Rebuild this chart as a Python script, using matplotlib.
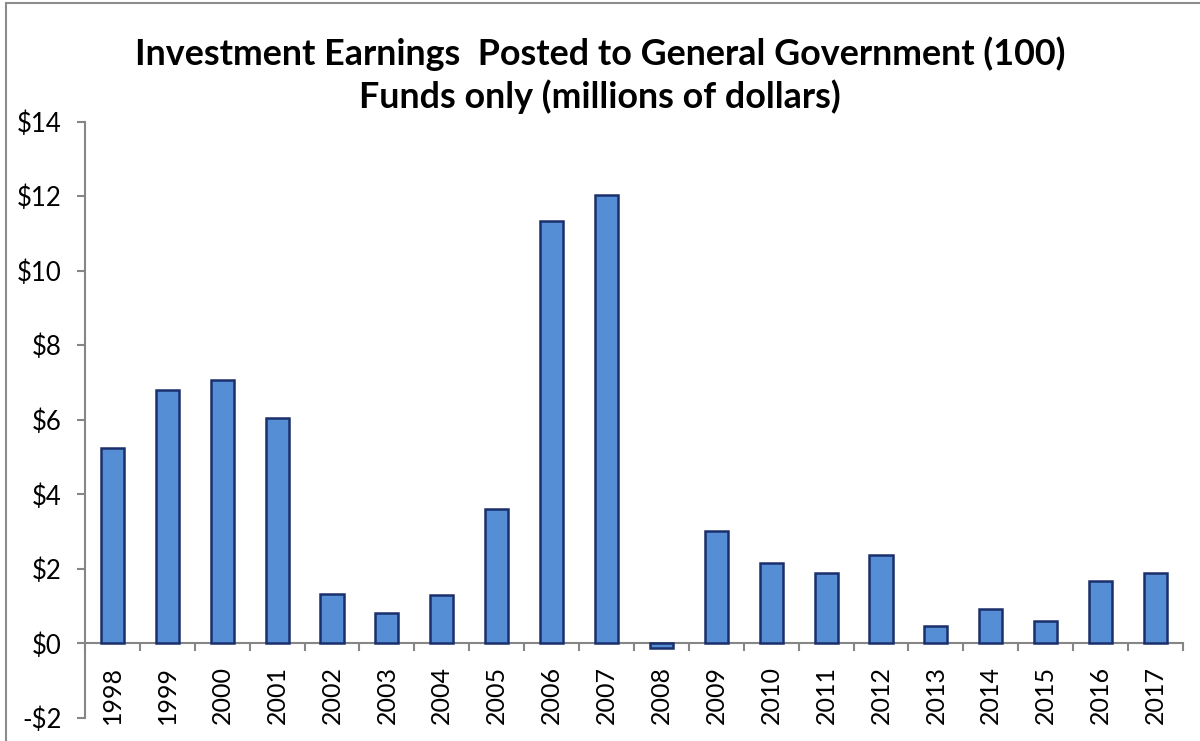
import matplotlib.pyplot as plt
import matplotlib.patches as patches
from matplotlib.ticker import FuncFormatter, MultipleLocator, FixedLocator

# 年度別の投資収益（百万ドル）
years = ["1998", "1999", "2000", "2001", "2002", "2003", "2004", "2005",
         "2006", "2007", "2008", "2009", "2010", "2011", "2012", "2013",
         "2014", "2015", "2016", "2017"]
earnings = [5.25, 6.8, 7.08, 6.04, 1.33, 0.82, 1.29, 3.6,
            11.32, 12.04, -0.12, 3.03, 2.17, 1.88, 2.36, 0.48,
            0.93, 0.6, 1.68, 1.88]

bar_face = "#558ed5"
bar_edge = "#1a2f6b"
axis_gray = "#868686"

plt.rcParams['font.family'] = ['Lato', 'DejaVu Sans']

fig = plt.figure(figsize=(12, 7.41), dpi=100)
ax = fig.add_axes([0.0708, 0.031, 0.915, 0.805])

x = list(range(len(years)))
ax.bar(x, earnings, width=0.42, color=bar_face, edgecolor=bar_edge,
       linewidth=1.8, zorder=3)

ax.set_xlim(-0.5, len(years) - 0.5)
ax.set_ylim(-2, 14)

# 軸の設定
for side in ["top", "right"]:
    ax.spines[side].set_visible(False)
ax.spines["bottom"].set_position(("data", 0))
ax.spines["left"].set_color(axis_gray)
ax.spines["bottom"].set_color(axis_gray)
ax.spines["left"].set_linewidth(1.5)
ax.spines["bottom"].set_linewidth(1.5)

ax.yaxis.set_major_locator(MultipleLocator(2))
ax.yaxis.set_major_formatter(FuncFormatter(
    lambda v, p: f"-${abs(v):.0f}" if v < 0 else f"${v:.0f}"))
ax.tick_params(axis="y", direction="out", length=6, width=1.5,
               color=axis_gray, labelsize=18.5, pad=11)

# 年ラベルは中央、目盛線は区切り位置
ax.set_xticks(x)
ax.set_xticklabels(years, rotation=90)
ax.xaxis.set_minor_locator(FixedLocator([i - 0.5 for i in range(len(years) + 1)]))
ax.tick_params(axis="x", which="major", length=0, labelsize=18, pad=16)
ax.tick_params(axis="x", which="minor", direction="out", length=6,
               width=1.5, color=axis_gray)

fig.text(0.5, 0.899, "Investment Earnings  Posted to General Government (100)\n"
         "Funds only (millions of dollars)", ha="center", va="center",
         fontsize=25.8, fontweight="bold", linespacing=1.3)

# 外枠
fig.add_artist(patches.Rectangle((0.005, -0.1), 1.2, 1.096,
                                 transform=fig.transFigure, fill=False,
                                 edgecolor="#8c8c8c", linewidth=1.5))

fig.savefig("out.png", dpi=100)
